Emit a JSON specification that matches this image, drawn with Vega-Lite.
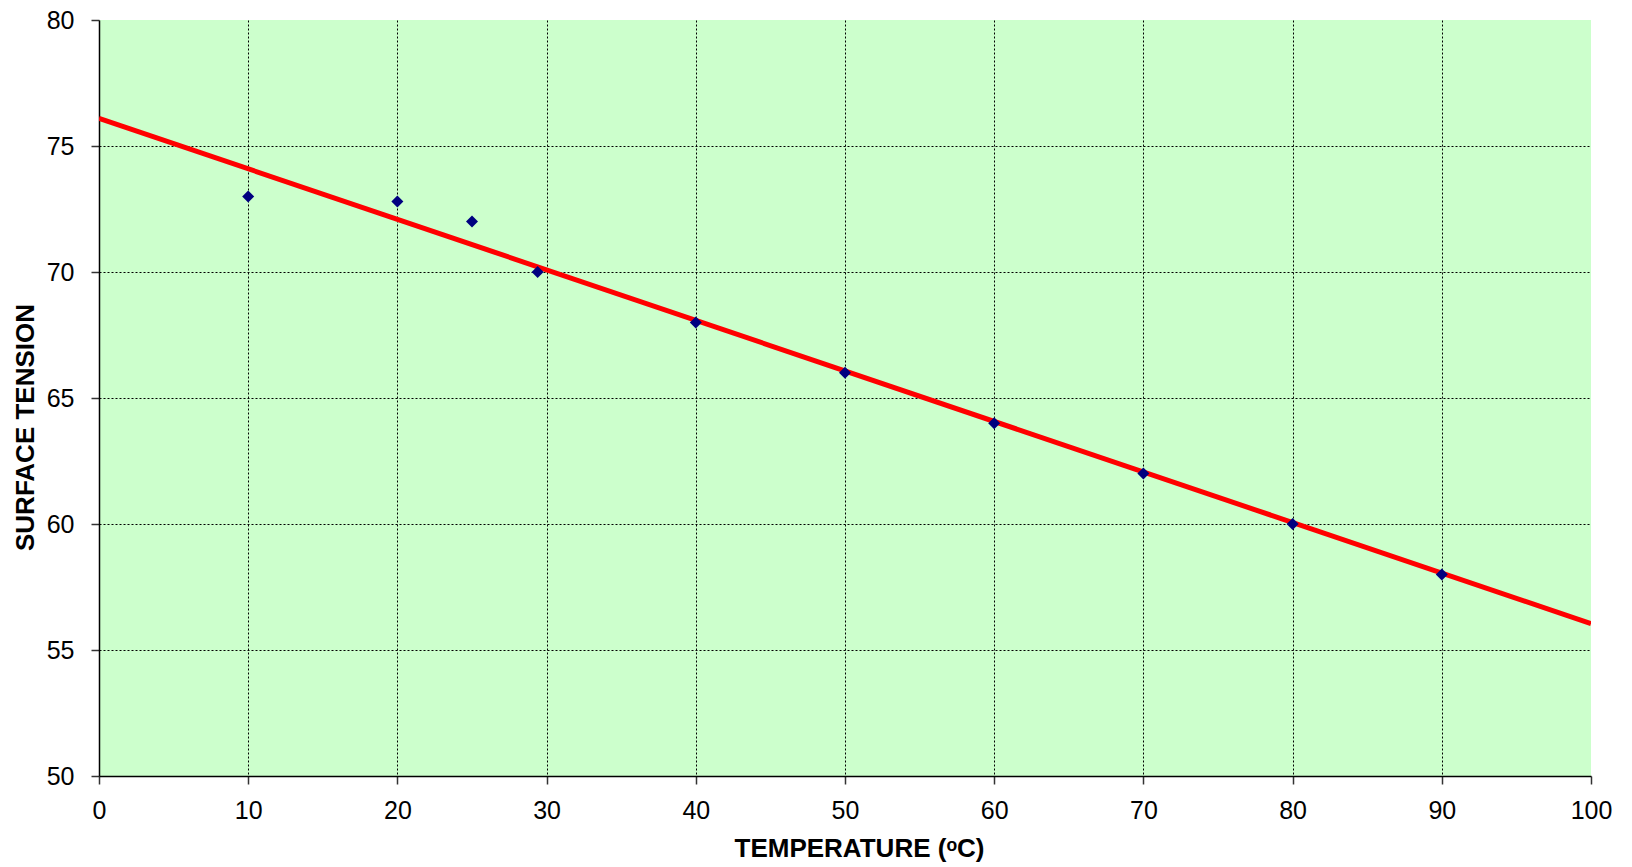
{
  "$schema": "https://vega.github.io/schema/vega-lite/v6.json",
  "autosize": "none",
  "width": 1492,
  "height": 756,
  "padding": {"left": 99, "top": 20, "right": 41, "bottom": 91},
  "background": "white",
  "config": {
    "view": {"fill": "#CCFFCC", "stroke": null},
    "font": "Liberation Sans",
    "axis": {
      "labelFont": "Liberation Sans",
      "titleFont": "Liberation Sans",
      "labelFontSize": 25,
      "labelColor": "#000000",
      "titleFontSize": 26,
      "titleFontWeight": "bold",
      "titleColor": "#000000",
      "domainColor": "#000000",
      "domainWidth": 1.5,
      "tickColor": "#333333",
      "tickSize": 8,
      "tickWidth": 1.5,
      "gridColor": "#000000",
      "gridDash": [2, 2],
      "gridWidth": 1
    }
  },
  "datasets": {
    "points": [
      {"temp": 10, "tension": 73.0},
      {"temp": 20, "tension": 72.8},
      {"temp": 25, "tension": 72.0},
      {"temp": 29.4, "tension": 70.0},
      {"temp": 40, "tension": 68.0},
      {"temp": 50, "tension": 66.0},
      {"temp": 60, "tension": 64.0},
      {"temp": 70, "tension": 62.0},
      {"temp": 80, "tension": 60.0},
      {"temp": 90, "tension": 58.0}
    ],
    "fit": [
      {"temp": 0, "tension": 76.1},
      {"temp": 100, "tension": 56.05}
    ]
  },
  "layer": [
    {
      "data": {"name": "fit"},
      "mark": {"type": "line", "color": "#FF0000", "strokeWidth": 5, "clip": true},
      "encoding": {
        "x": {
          "field": "temp", "type": "quantitative",
          "scale": {"domain": [0, 100], "nice": false, "zero": false},
          "axis": {
            "title": "TEMPERATURE (ᵒC)",
            "values": [0, 10, 20, 30, 40, 50, 60, 70, 80, 90, 100],
            "labelPadding": 14,
            "labelFlush": false,
            "labelOverlap": false,
            "titleX": 760,
            "titleY": 80,
            "titleBaseline": "alphabetic",
            "gridOpacity": {"condition": {"test": "datum.value == 100 || datum.value == 0", "value": 0}, "value": 1}
          }
        },
        "y": {
          "field": "tension", "type": "quantitative",
          "scale": {"domain": [50, 80], "nice": false, "zero": false},
          "axis": {
            "title": "SURFACE TENSION",
            "values": [50, 55, 60, 65, 70, 75, 80],
            "labelPadding": 17,
            "labelFlush": false,
            "labelOverlap": false,
            "titleX": -66,
            "titleY": 407,
            "titleBaseline": "alphabetic",
            "gridOpacity": {"condition": {"test": "datum.value == 80 || datum.value == 50", "value": 0}, "value": 1}
          }
        }
      }
    },
    {
      "data": {"name": "points"},
      "mark": {"type": "point", "shape": "diamond", "filled": true, "color": "#000080", "size": 144, "opacity": 1},
      "encoding": {
        "x": {"field": "temp", "type": "quantitative"},
        "y": {"field": "tension", "type": "quantitative"}
      }
    }
  ]
}
